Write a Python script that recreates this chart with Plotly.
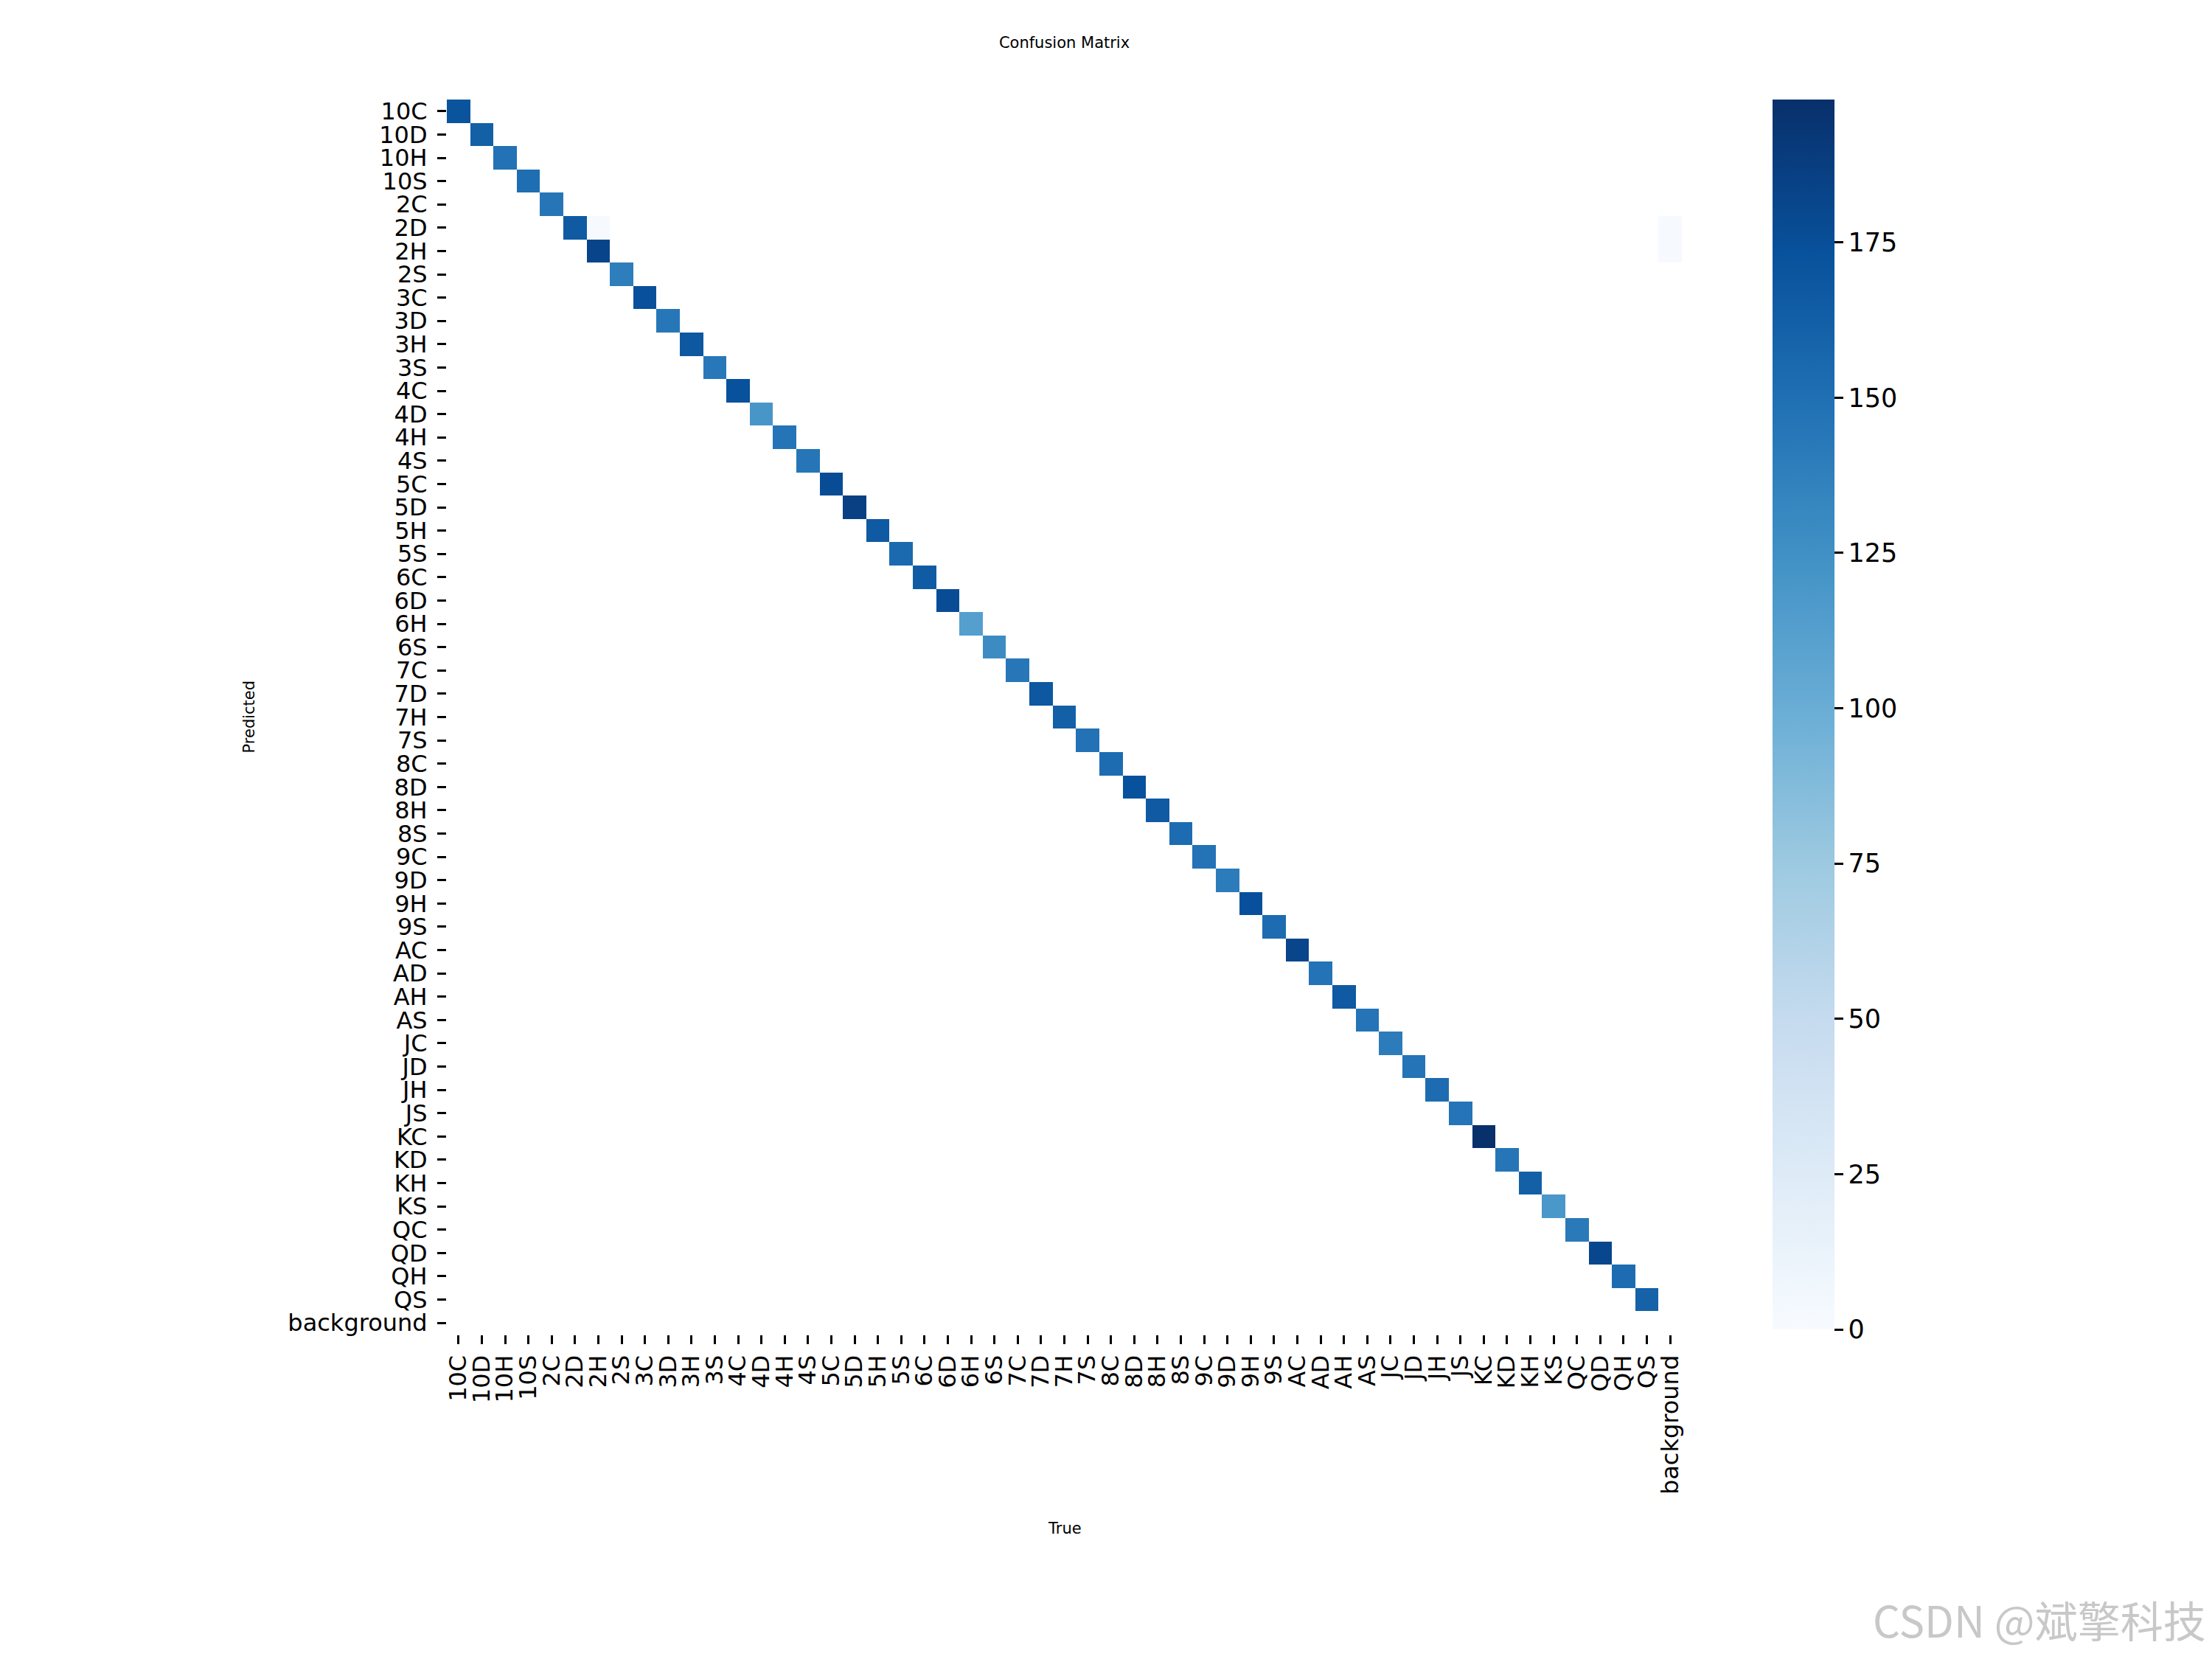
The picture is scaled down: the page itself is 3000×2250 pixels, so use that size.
import numpy as np
import plotly.graph_objects as go

# class names (rows = predicted, columns = true)
classes = [
    "10C", "10D", "10H", "10S", "2C", "2D", "2H", "2S",
    "3C", "3D", "3H", "3S", "4C", "4D", "4H", "4S",
    "5C", "5D", "5H", "5S", "6C", "6D", "6H", "6S",
    "7C", "7D", "7H", "7S", "8C", "8D", "8H", "8S",
    "9C", "9D", "9H", "9S", "AC", "AD", "AH", "AS",
    "JC", "JD", "JH", "JS", "KC", "KD", "KH", "KS",
    "QC", "QD", "QH", "QS", "background",
]

# correct predictions, one per card class (background has none)
diagonal_counts = [
    171, 162, 148, 151, 145, 166, 183, 139,
    174, 144, 168, 143, 173, 120, 146, 145,
    177, 186, 166, 154, 165, 177, 112, 128,
    144, 168, 162, 148, 152, 173, 166, 152,
    147, 140, 174, 152, 182, 147, 166, 146,
    140, 146, 152, 146, 198, 145, 162, 119,
    142, 181, 152, 160,
]

# the few misclassifications: (predicted, true, count)
off_diagonal = [
    ("2D", "2H", 1),
    ("2D", "background", 1),
    ("2H", "background", 1),
]

colorbar_ticks = [0, 25, 50, 75, 100, 125, 150, 175]

# matplotlib / colorbrewer "Blues"
blues = ["#f7fbff", "#deebf7", "#c6dbef", "#9ecae1", "#6baed6",
         "#4292c6", "#2171b5", "#08519c", "#08306b"]
colorscale = [[i / (len(blues) - 1), c] for i, c in enumerate(blues)]

n = len(classes)
matrix = np.full((n, n), np.nan)
for i, v in enumerate(diagonal_counts):
    matrix[i, i] = v
for pred, true, v in off_diagonal:
    matrix[classes.index(pred), classes.index(true)] = v

FONT = "DejaVu Sans"

# the page body adds an 8px margin, so shift everything back by that much
OFF = 8
W, H = 3000, 2250
L, R, T, B = 606 - OFF, 2281 - OFF, 135 - OFF, 1810 - OFF
pw, ph = R - L, B - T

fig = go.Figure(
    go.Heatmap(
        z=matrix,
        x=classes,
        y=classes,
        colorscale=colorscale,
        zmin=0,
        zmax=float(np.nanmax(matrix)),
        hoverongaps=False,
        colorbar={
            "x": (2404 - OFF - L) / pw,
            "xanchor": "left",
            "xref": "paper",
            "y": 1,
            "yanchor": "top",
            "len": 0.996,
            "thickness": 84,
            "xpad": 0,
            "ypad": 0,
            "outlinewidth": 0,
            "tickvals": colorbar_ticks,
            "ticks": "outside",
            "ticklen": 12,
            "tickwidth": 3,
            "tickcolor": "black",
            "tickfont": {"family": FONT, "size": 35, "color": "black"},
        },
    )
)

axis_common = {
    "type": "category",
    "tickmode": "array",
    "tickvals": classes,
    "ticktext": classes,
    "showgrid": False,
    "zeroline": False,
    "showline": False,
    "ticks": "outside",
    "ticklen": 12,
    "tickwidth": 3,
    "tickcolor": "black",
    "tickfont": {"family": FONT, "size": 32, "color": "black"},
}

fig.update_layout(
    width=W,
    height=H,
    margin={"l": L, "r": W - R, "t": T, "b": H - B, "autoexpand": False},
    paper_bgcolor="white",
    plot_bgcolor="white",
    font={"family": FONT, "color": "black"},
    title={
        "text": "Confusion Matrix",
        "font": {"family": FONT, "size": 21, "color": "black"},
        "x": 0.5,
        "xref": "paper",
        "xanchor": "center",
        "y": 1 - (58 - OFF) / H,
        "yref": "container",
        "yanchor": "middle",
    },
    xaxis={**axis_common, "tickangle": -90, "ticklabelstandoff": 2},
    yaxis={**axis_common, "autorange": "reversed", "ticklabelstandoff": 7},
    annotations=[
        {
            "text": "True",
            "xref": "paper", "yref": "paper",
            "x": 0.5, "y": (B - (2073 - OFF)) / ph,
            "xanchor": "center", "yanchor": "middle",
            "showarrow": False,
            "font": {"family": FONT, "size": 21, "color": "black"},
        },
        {
            "text": "Predicted",
            "xref": "paper", "yref": "paper",
            "x": (337 - OFF - L) / pw, "y": 0.5,
            "xanchor": "center", "yanchor": "middle",
            "textangle": -90,
            "showarrow": False,
            "font": {"family": FONT, "size": 21, "color": "black"},
        },
        {
            "text": "CSDN @斌擎科技",
            "xref": "paper", "yref": "paper",
            "x": (2994 - OFF - L) / pw, "y": (B - (2196 - OFF)) / ph,
            "xanchor": "right", "yanchor": "middle",
            "showarrow": False,
            "font": {"family": "Noto Sans CJK SC", "size": 58, "color": "#c8c8c8"},
        },
    ],
)

fig.write_html("out.html")
